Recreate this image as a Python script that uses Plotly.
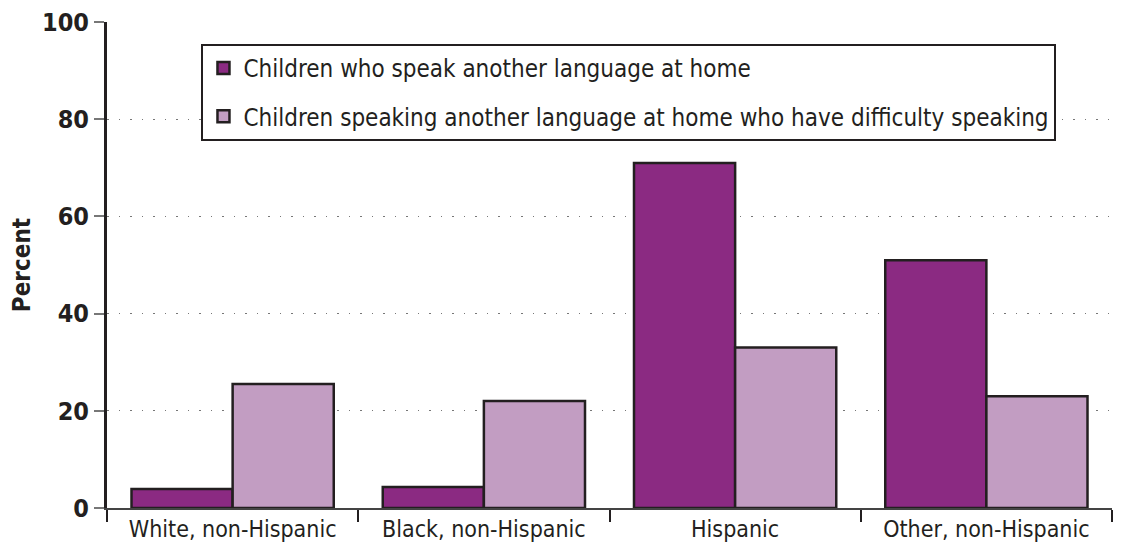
import plotly.graph_objects as go

categories = ["White, non-Hispanic", "Black, non-Hispanic", "Hispanic", "Other, non-Hispanic"]
speak_other = [3.9, 4.3, 71, 51]
difficulty = [25.5, 22, 33, 23]
series_names = [
    "Children who speak another language at home",
    "Children speaking another language at home who have difficulty speaking",
]
y_ticks = [0, 20, 40, 60, 80, 100]

FONT = "DejaVu Sans Condensed, Liberation Sans Narrow, sans-serif"
DARK = "#231F20"

fig = go.Figure()
fig.add_trace(go.Bar(
    x=categories, y=speak_other, name=series_names[0], legendgroup="a",
    marker=dict(color="#8B2A82", line=dict(color=DARK, width=2.5)),
))
fig.add_trace(go.Bar(
    x=categories, y=difficulty, name=series_names[1], legendgroup="b",
    marker=dict(color="#C29DC2", line=dict(color=DARK, width=2.5)),
))

fig.update_layout(
    width=1127, height=557,
    margin=dict(l=107, r=15, t=22, b=49),
    paper_bgcolor="white", plot_bgcolor="white",
    barmode="group", bargap=0.195, bargroupgap=0,
    font=dict(family=FONT, color=DARK),
    showlegend=True,
    legend=dict(
        x=0.094, y=0.955, xanchor="left", yanchor="top",
        bgcolor="white", bordercolor=DARK, borderwidth=2,
        font=dict(family=FONT, size=24, color=DARK),
        traceorder="grouped", tracegroupgap=14,
    ),
    xaxis=dict(
        type="category", range=[-0.5, 3.5], automargin=False,
        showline=True, linecolor="#444444", linewidth=1.5,
        ticks="outside", tickson="boundaries", ticklen=12,
        tickcolor=DARK, tickwidth=1.5,
        tickfont=dict(family=FONT, size=23, color=DARK),
        showgrid=False,
    ),
    yaxis=dict(
        range=[0, 100], tickvals=y_ticks, automargin=False,
        showline=True, linecolor=DARK, linewidth=3,
        ticks="outside", ticklen=10, tickcolor="#777777", tickwidth=1.5,
        tickfont=dict(family=FONT, size=25, color=DARK, weight="bold"),
        showgrid=True, gridcolor="#777777", gridwidth=1, griddash="1.5px,10px",
        zeroline=False,
        title=dict(text="Percent", font=dict(family=FONT, size=24, color=DARK, weight="bold"),
                   standoff=5),
    ),
)

fig.write_html("out.html")
